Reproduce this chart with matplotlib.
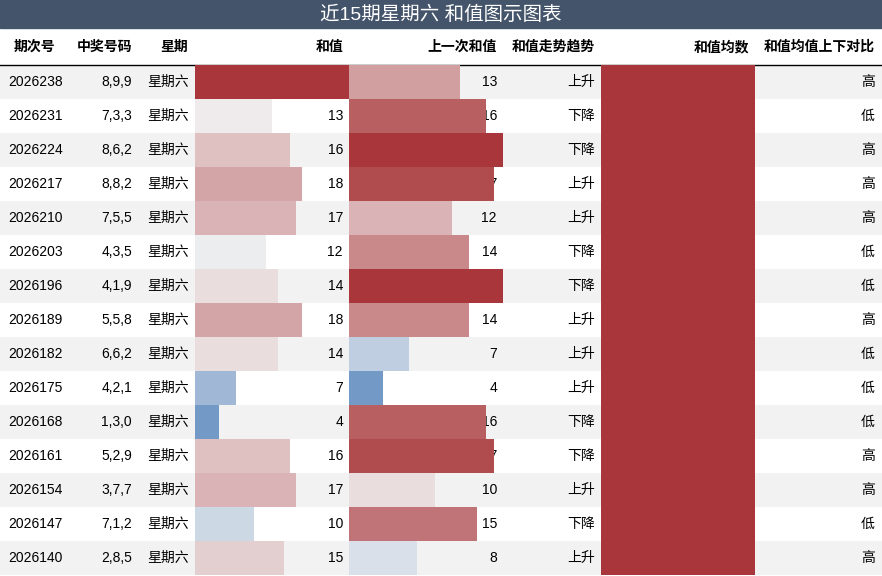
import matplotlib
matplotlib.use("Agg")
import matplotlib.pyplot as plt
from matplotlib.colors import LinearSegmentedColormap, TwoSlopeNorm
from matplotlib.patches import Rectangle

issues = ["2026238","2026231","2026224","2026217","2026210","2026203","2026196","2026189",
          "2026182","2026175","2026168","2026161","2026154","2026147","2026140"]
numbers = ["8,9,9","7,3,3","8,6,2","8,8,2","7,5,5","4,3,5","4,1,9","5,5,8",
           "6,6,2","4,2,1","1,3,0","5,2,9","3,7,7","7,1,2","2,8,5"]
weekday = ["星期六"] * 15
sums = [26,13,16,18,17,12,14,18,14,7,4,16,17,10,15]
prev = [13,16,18,17,12,14,18,14,7,4,16,17,10,15,8]
trend = ["上升","下降","下降","上升","上升","下降","下降","上升","上升","上升","下降","下降","上升","下降","上升"]
avg = [14.5] * 15
cmp_ = ["高","低","高","高","高","低","低","高","低","低","低","高","高","低","高"]
headers = ["期次号","中奖号码","星期","和值","上一次和值","和值走势趋势","和值均数","和值均值上下对比"]
title = "近15期星期六 和值图示图表"

FONT = ['Liberation Sans', 'Noto Sans CJK SC', 'DejaVu Sans']
plt.rcParams['font.family'] = FONT
W, H = 882, 576
fig = plt.figure(figsize=(W/100, H/100), dpi=100)
ax = fig.add_axes([0, 0, 1, 1])
ax.set_xlim(0, W); ax.set_ylim(H, 0); ax.axis('off')

TOP, RH = 65, 34
ax.add_patch(Rectangle((0, 0), W, 28, color='#44546A'))
ax.text(W/2, 15, title, color='white', ha='center', va='center', fontsize=14)
ax.plot([0, W], [64.5, 64.5], color='black', lw=1)
for i in range(15):
    if i % 2 == 0:
        ax.add_patch(Rectangle((0, TOP+i*RH), W, RH, color='#F2F2F2', lw=0))

hx = [(35,'center'),(132,'right'),(188,'right'),(343,'right'),(497,'right'),(595,'right'),(749,'right'),(875,'right')]
for (x, ha), h in zip(hx, headers):
    ax.text(x, 47, h, ha=ha, va='center', fontsize=10, fontweight='bold')

cmap = LinearSegmentedColormap.from_list('d', ['#7399C6', '#F2F2F2', '#A8363A'])

def bar_col(x0, vals, vmax, norm, color=None):
    bax = fig.add_axes([x0/W, 1-(TOP+15*RH)/H, 154/W, 15*RH/H])
    bax.set_xlim(0, vmax); bax.set_ylim(15, 0); bax.axis('off')
    bax.patch.set_alpha(0)
    cols = [color]*len(vals) if color else [cmap(norm(v)) for v in vals]
    bax.barh([i+0.5 for i in range(15)], vals, height=1.0, left=0, color=cols)

bar_col(195, sums, max(sums), TwoSlopeNorm(12.5, min(sums), max(sums)))
bar_col(349, prev, max(prev), TwoSlopeNorm(9, min(prev), max(prev)))
bar_col(601, avg, max(avg), None, color='#A8363A')

for i in range(15):
    y = TOP + i*RH + RH/2
    ax.text(8, y, issues[i], ha='left', va='center', fontsize=10)
    ax.text(132, y, numbers[i], ha='right', va='center', fontsize=10)
    ax.text(147, y, weekday[i], ha='left', va='center', fontsize=10)
    ax.text(343, y, str(sums[i]), ha='right', va='center', fontsize=10, zorder=5)
    ax.text(497, y, str(prev[i]), ha='right', va='center', fontsize=10, zorder=5)
    ax.text(595, y, trend[i], ha='right', va='center', fontsize=10)
    ax.text(749, y, str(avg[i]), ha='right', va='center', fontsize=10, zorder=5)
    ax.text(875, y, cmp_[i], ha='right', va='center', fontsize=10)

# text on top of bar axes
for t in list(ax.texts):
    pass
ax.set_zorder(0)
fig.savefig('out.png', dpi=100)
